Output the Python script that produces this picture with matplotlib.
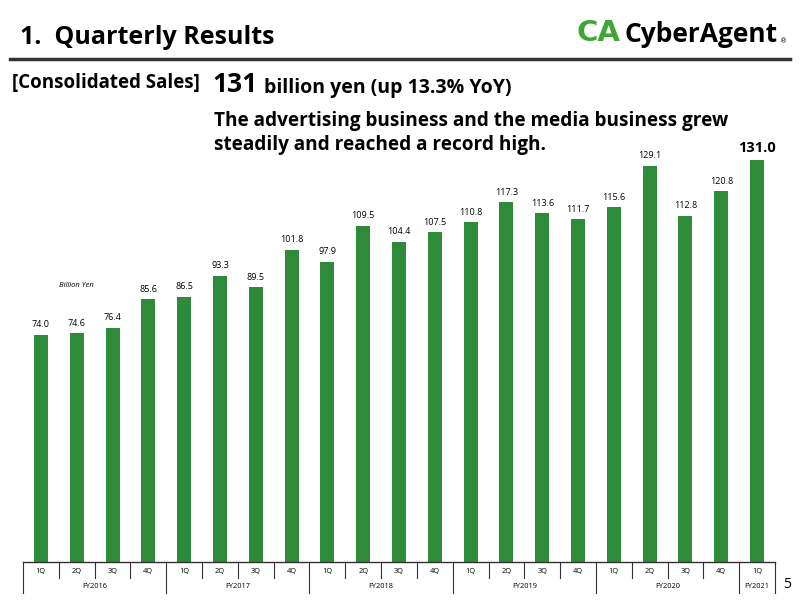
import matplotlib
matplotlib.use("Agg")
import matplotlib.pyplot as plt
from matplotlib.transforms import blended_transform_factory

quarters = ["1Q", "2Q", "3Q", "4Q"] * 5 + ["1Q"]
fiscal_years = ["FY2016", "FY2017", "FY2018", "FY2019", "FY2020", "FY2021"]
quarters_per_year = [4, 4, 4, 4, 4, 1]
sales = [74.0, 74.6, 76.4, 85.6, 86.5, 93.3, 89.5, 101.8, 97.9, 109.5, 104.4, 107.5,
         110.8, 117.3, 113.6, 111.7, 115.6, 129.1, 112.8, 120.8, 131.0]

GREEN = "#2e8b3a"
W, H = 800, 600
fig = plt.figure(figsize=(8, 6), dpi=100)

def fx(px):
    return px / W

def fy(py):
    return 1 - py / H

# axes: x 23..775 px, y 150..562 px
ax = fig.add_axes([fx(23), fy(562), fx(775 - 23), (562 - 150) / H])
n = len(sales)
xs = list(range(n))
ax.bar(xs, sales, width=0.39, color=GREEN, zorder=2)
ax.set_xlim(-0.5, n - 0.5)
ax.set_ylim(0, 412 / 3.068)
for s in ["top", "right", "left"]:
    ax.spines[s].set_visible(False)
ax.spines["bottom"].set_color("#333333")
ax.spines["bottom"].set_linewidth(1.0)
ax.set_xticks([])
ax.set_yticks([])

for i, v in enumerate(sales):
    if i == n - 1:
        ax.annotate(f"{v:.1f}", (i, v), xytext=(0, 4), textcoords="offset points",
                    ha="center", va="bottom", fontsize=10.5, fontweight="bold",
                    family="Open Sans")
    else:
        ax.annotate(f"{v:.1f}", (i, v), xytext=(0, 4), textcoords="offset points",
                    ha="center", va="bottom", fontsize=6.5, family="Open Sans")

ax.text(1, 90, "Billion Yen", ha="center", va="center", fontsize=5.5,
        style="italic", family="Open Sans", transform=ax.transData)

# category table below axis
tr = blended_transform_factory(ax.transData, ax.transAxes)
axh = 412.0
row1 = -16 / axh
row2 = -31 / axh
year_bounds = [-0.5]
for q in quarters_per_year:
    year_bounds.append(year_bounds[-1] + q)
for b in range(n + 1):
    xb = b - 0.5
    if xb in year_bounds:
        ax.plot([xb, xb], [0, row2], color="#333333", lw=0.8, transform=tr, clip_on=False)
    else:
        ax.plot([xb, xb], [0, row1], color="#333333", lw=0.8, transform=tr, clip_on=False)
for i, q in enumerate(quarters):
    ax.text(i, -9 / axh, q, ha="center", va="center", fontsize=5.3, transform=tr,
            family="Open Sans")
for k, fyl in enumerate(fiscal_years):
    cx = (year_bounds[k] + year_bounds[k + 1]) / 2
    ax.text(cx, -24.5 / axh, fyl, ha="center", va="center", fontsize=5.3, transform=tr,
            family="Open Sans")

# header
fig.text(fx(20), fy(37), "1.  Quarterly Results", fontsize=18, fontweight="bold",
         ha="left", va="center", family="Open Sans")
fig.add_artist(plt.Line2D([fx(10), fx(790)], [fy(58.5), fy(58.5)], color="#333333", lw=2.5))

# logo
fig.text(fx(576), fy(33), "CA", fontsize=21, fontweight="bold", color="#3fa535",
         ha="left", va="center", family="DejaVu Sans")
fig.text(fx(624), fy(34), "CyberAgent", fontsize=19, fontweight="bold", color="black",
         ha="left", va="center", family="Open Sans")
fig.text(fx(784), fy(41), "®", fontsize=5, color="black", ha="center", va="center")

fig.text(fx(12), fy(83), "[Consolidated Sales]", fontsize=13.5, fontweight="bold",
         ha="left", va="center", family="Open Sans")
fig.text(fx(212), fy(85), "131", fontsize=19, fontweight="bold",
         ha="left", va="center", family="Open Sans")
fig.text(fx(264), fy(88), "billion yen (up 13.3% YoY)", fontsize=14, fontweight="bold",
         ha="left", va="center", family="Open Sans")
fig.text(fx(214), fy(121), "The advertising business and the media business grew",
         fontsize=13.7, fontweight="bold", ha="left", va="center", family="Open Sans")
fig.text(fx(214), fy(145), "steadily and reached a record high.",
         fontsize=13.7, fontweight="bold", ha="left", va="center", family="Open Sans")

fig.text(fx(787), fy(584), "5", fontsize=10, ha="center", va="center", family="Open Sans")

fig.savefig("out.png", dpi=100)
